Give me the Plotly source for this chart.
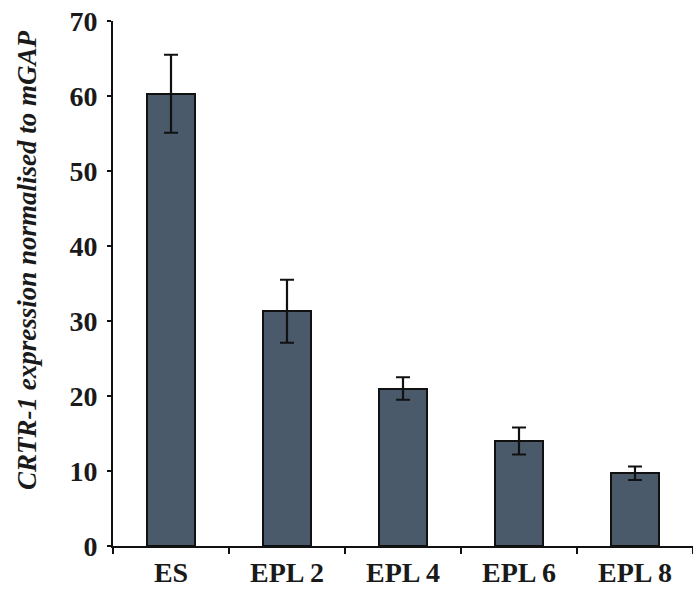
import plotly.graph_objects as go

categories = ["ES", "EPL 2", "EPL 4", "EPL 6", "EPL 8"]
values = [60.3, 31.3, 21.0, 14.0, 9.7]
errors = [5.2, 4.2, 1.5, 1.8, 0.9]
y_ticks = [0, 10, 20, 30, 40, 50, 60, 70]
y_title = "CRTR-1 expression normalised to mGAP"

FONT = "Liberation Serif, Times New Roman, serif"

fig = go.Figure()
fig.add_trace(go.Bar(
    x=categories, y=values,
    width=0.41,
    marker=dict(color="#4b5a6b", line=dict(color="#111111", width=2)),
    error_y=dict(type="data", array=errors, visible=True,
                 color="#111111", thickness=2.2, width=7),
))

tick_font = dict(family=FONT, size=28, color="#1a1a1a", weight="bold")

fig.add_annotation(
    text=y_title, textangle=-90,
    xref="paper", yref="paper", x=-0.148, y=0.545,
    xanchor="center", yanchor="middle", showarrow=False,
    font=dict(family=FONT, size=27, color="#1a1a1a", weight="bold", style="italic"),
)

fig.update_layout(
    width=693, height=596,
    margin=dict(l=113, r=0, t=21, b=50),
    plot_bgcolor="white", paper_bgcolor="white",
    showlegend=False,
    bargap=0,
    xaxis=dict(
        showline=True, linecolor="#111111", linewidth=2,
        ticks="outside", ticklen=6, tickwidth=2, tickcolor="#111111",
        tickson="boundaries",
        tickfont=tick_font,
        range=[-0.5, 4.5],
        showgrid=False,
    ),
    yaxis=dict(
        range=[0, 70],
        tickvals=y_ticks,
        showline=True, linecolor="#111111", linewidth=2,
        ticks="outside", ticklen=4, tickwidth=2, tickcolor="#111111",
        tickfont=tick_font, ticklabelstandoff=4,
        showgrid=False, zeroline=False,
    ),
)

fig.write_html("out.html")
